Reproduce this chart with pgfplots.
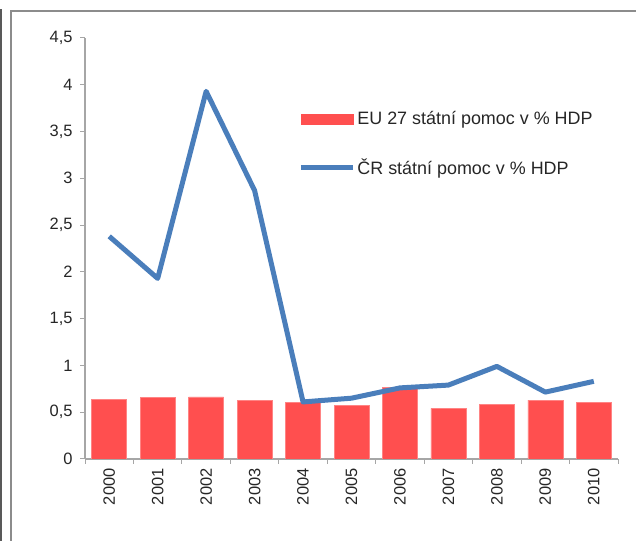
\documentclass[border=0pt]{standalone}
\usepackage{fontspec}
\setmainfont{Liberation Sans}
\usepackage{pgfplots}
\pgfplotsset{compat=1.18}
\definecolor{barred}{HTML}{FF4F4F}
\definecolor{lineblue}{HTML}{4A7EBB}
\definecolor{axgray}{HTML}{A6A6A6}
\definecolor{framegray}{HTML}{8C8C8C}
\definecolor{txt}{HTML}{262626}
\begin{document}
\begin{tikzpicture}
\useasboundingbox (0,0) rectangle (636bp,541bp);
% chart frame (cropped at right and bottom)
\draw[framegray, line width=2bp] (11bp,-10bp) |- (700bp,530bp);
\draw[black!65, line width=1.5bp] (1bp,-10bp) -- (1bp,532bp);
\begin{axis}[
  at={(85bp,82bp)}, anchor=south west,
  scale only axis, width=533bp, height=421bp,
  xmin=-0.5, xmax=10.5, ymin=0, ymax=4.5,
  axis x line*=bottom, axis y line*=left,
  axis line style={draw=axgray, line width=1.3bp, -},
  tick align=outside,
  tick style={draw=axgray, line width=1bp},
  major tick length=5bp, minor tick length=5bp,
  ytick={0,0.5,...,4.5},
  y tick label style={xshift=-4bp},
  xtick={0,...,10},
  xticklabels={2000,2001,2002,2003,2004,2005,2006,2007,2008,2009,2010},
  major x tick style={draw=none},
  minor xtick={-0.5,0.5,...,10.5},
  x tick label style={rotate=90, anchor=east, xshift=-1bp},
  tick label style={font=\fontsize{16.5}{18}\selectfont, text=txt},
  /pgf/number format/use comma,
  /pgf/number format/assume math mode=true,
  legend style={draw=none, fill=none, inner sep=0pt, nodes={inner sep=2bp},
    at={(rel axis cs:0.400,0.83)}, anchor=north west,
    font=\fontsize{18}{21}\selectfont, text=txt, row sep=28bp,
    legend cell align=left},
]
\addplot[ybar, bar width=35bp, fill=barred, draw=barred!70!white, line width=0.5bp,
  legend image code/.code={\fill[barred] (0bp,-5bp) rectangle (52bp,5bp);}]
  coordinates {(0,0.64)(1,0.655)(2,0.665)(3,0.63)(4,0.605)(5,0.57)(6,0.765)(7,0.54)(8,0.585)(9,0.63)(10,0.605)};
\addlegendentry{EU 27 státní pomoc v \% HDP}
\addplot[sharp plot, draw=lineblue, line width=5bp, line join=round, mark=none,
  legend image code/.code={\draw[lineblue, line width=5bp] (0bp,0bp) -- (52bp,0bp);}]
  coordinates {(0,2.38)(1,1.93)(2,3.93)(3,2.87)(4,0.61)(5,0.65)(6,0.76)(7,0.79)(8,0.99)(9,0.715)(10,0.83)};
\addlegendentry{ČR státní pomoc v \% HDP}
\end{axis}
\end{tikzpicture}
\end{document}
